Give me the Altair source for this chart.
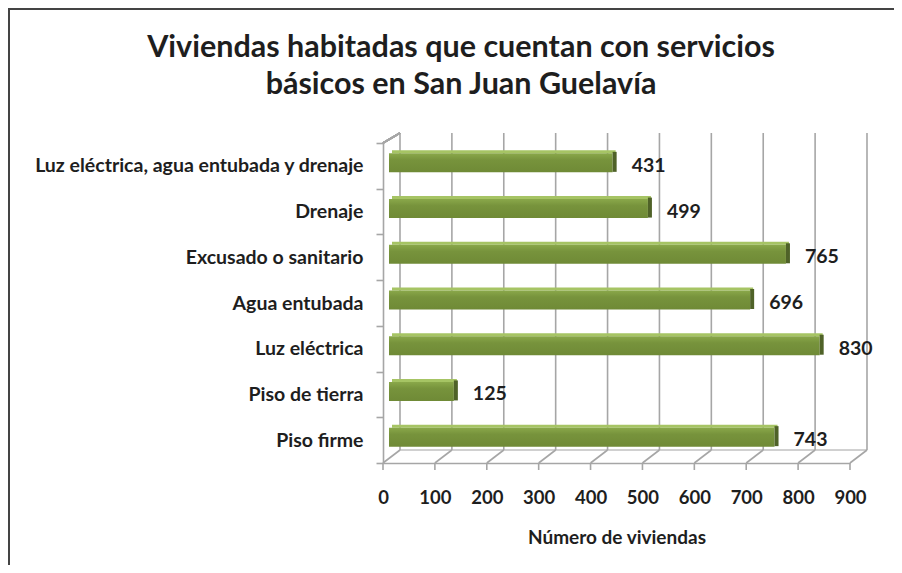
import altair as alt
import pandas as pd

categories = [
    "Luz eléctrica, agua entubada y drenaje",
    "Drenaje",
    "Excusado o sanitario",
    "Agua entubada",
    "Luz eléctrica",
    "Piso de tierra",
    "Piso firme",
]
values = [431, 499, 765, 696, 830, 125, 743]
tick_values = [0, 100, 200, 300, 400, 500, 600, 700, 800, 900]
title_lines = ["Viviendas habitadas que cuentan con servicios", "básicos en San Juan Guelavía"]
x_title = "Número de viviendas"

FONT = "Lato"
TXT = "#1e1e1e"
GRID = "#a6a6a6"

bars = pd.DataFrame({"cat": categories, "v": values})
ticks = pd.DataFrame({"t": tick_values})

xs = alt.Scale(domain=[0, 900], nice=False, zero=True)
ys = alt.Scale(domain=categories, paddingInner=0, paddingOuter=0)

W, H = 467, 320
PL, PT = 375, 135

# back wall grid lines
grid = alt.Chart(ticks).mark_rule(color=GRID, strokeWidth=1.6, xOffset=17).encode(
    x=alt.X("t:Q", scale=xs), y=alt.value(-10), y2=alt.value(307)
)
# floor diagonals
floor_diag = alt.Chart(ticks).mark_rule(color=GRID, strokeWidth=1.6, x2Offset=17).encode(
    x=alt.X("t:Q", scale=xs), x2=alt.X2("t:Q"), y=alt.value(H), y2=alt.value(307)
)
# front tick marks below the floor
front_ticks = alt.Chart(ticks).mark_rule(color=GRID, strokeWidth=1.6).encode(
    x=alt.X("t:Q", scale=xs), y=alt.value(H), y2=alt.value(H + 7)
)
# back floor line
back_floor = alt.Chart(ticks).mark_rule(color="#d0d0d0", strokeWidth=1, xOffset=17, x2Offset=17).encode(
    x=alt.datum(0, scale=xs), x2=alt.datum(900), y=alt.value(307)
)
# top-left wall diagonal
top_diag = alt.Chart(ticks).mark_rule(color=GRID, strokeWidth=1.6, x2Offset=17).encode(
    x=alt.datum(0, scale=xs), x2=alt.datum(0), y=alt.value(0), y2=alt.value(-10)
)

base = alt.Chart(bars)

y_enc = alt.Y(
    "cat:N",
    scale=ys,
    sort=categories,
    axis=alt.Axis(
        title=None,
        tickBand="extent",
        ticks=True,
        tickSize=7,
        tickColor=GRID,
        tickWidth=1.6,
        domain=True,
        domainColor=GRID,
        domainWidth=1.6,
        labelFont=FONT,
        labelFontSize=19.5,
        labelFontWeight="bold",
        labelColor=TXT,
        labelPadding=13,
        labelLimit=450,
    ),
)

x_enc = alt.X(
    "v:Q",
    scale=xs,
    axis=alt.Axis(
        values=tick_values,
        grid=False,
        ticks=False,
        domain=True,
        domainColor=GRID,
        domainWidth=1.6,
        labelFont=FONT,
        labelFontSize=18.5,
        labelFontWeight="bold",
        labelColor=TXT,
        labelPadding=25,
        labelFlush=False,
        labelOverlap=False,
        title=x_title,
        titleFont=FONT,
        titleFontSize=19,
        titleFontWeight="bold",
        titleColor=TXT,
        titlePadding=22,
    ),
)

top_face = base.mark_bar(color="#a6c464", size=3, yOffset=-14, xOffset=9, x2Offset=9).encode(
    x=x_enc, y=y_enc
)
front_face = base.mark_bar(
    size=19,
    yOffset=-3,
    xOffset=6,
    x2Offset=6,
    color=alt.Gradient(
        gradient="linear",
        stops=[
            alt.GradientStop(color="#8aa84a", offset=0),
            alt.GradientStop(color="#77933c", offset=0.35),
            alt.GradientStop(color="#6f8a36", offset=1),
        ],
        x1=0, x2=0, y1=0, y2=1,
    ),
).encode(x=x_enc, y=y_enc)
side_face = base.mark_bar(color="#4f6228", size=20, yOffset=-4, xOffset=10, x2Offset=6).encode(
    x=alt.X("v:Q", scale=xs), x2=alt.X2("v:Q"), y=y_enc
)
labels = base.mark_text(
    align="left", baseline="middle", dx=25, font=FONT, fontSize=19.5, fontWeight="bold", color=TXT
).encode(x=alt.X("v:Q", scale=xs), y=y_enc, text=alt.Text("v:Q"))

title1 = alt.Chart(pd.DataFrame({"t": [title_lines[0]]})).mark_text(
    font=FONT, fontSize=30.5, fontWeight="bold", color=TXT, align="center", baseline="middle"
).encode(x=alt.value(461 - 8 - PL), y=alt.value(48 - 8 - PT), text="t:N")
title2 = alt.Chart(pd.DataFrame({"t": [title_lines[1]]})).mark_text(
    font=FONT, fontSize=30.5, fontWeight="bold", color=TXT, align="center", baseline="middle"
).encode(x=alt.value(461 - 8 - PL), y=alt.value(85 - 8 - PT), text="t:N")

border_left = alt.Chart(ticks).mark_rule(color="#444", strokeWidth=2).encode(
    x=alt.value(-PL + 1), y=alt.value(-PT), y2=alt.value(557 - PT)
)
border_top = alt.Chart(ticks).mark_rule(color="#444", strokeWidth=2).encode(
    x=alt.value(-PL), x2=alt.value(886 - PL), y=alt.value(-PT + 1)
)

chart = alt.layer(
    back_floor, grid, floor_diag, top_diag, front_ticks,
    top_face, front_face, side_face, labels,
    title1, title2, border_left, border_top,
).properties(
    width=W,
    height=H,
    autosize=alt.AutoSizeParams(type="none"),
    padding={"left": PL, "top": PT, "right": 886 - PL - W, "bottom": 557 - PT - H},
    background="white",
).configure_view(stroke=None)

chart.save("out.html", embed_options={"renderer": "svg", "actions": False})
